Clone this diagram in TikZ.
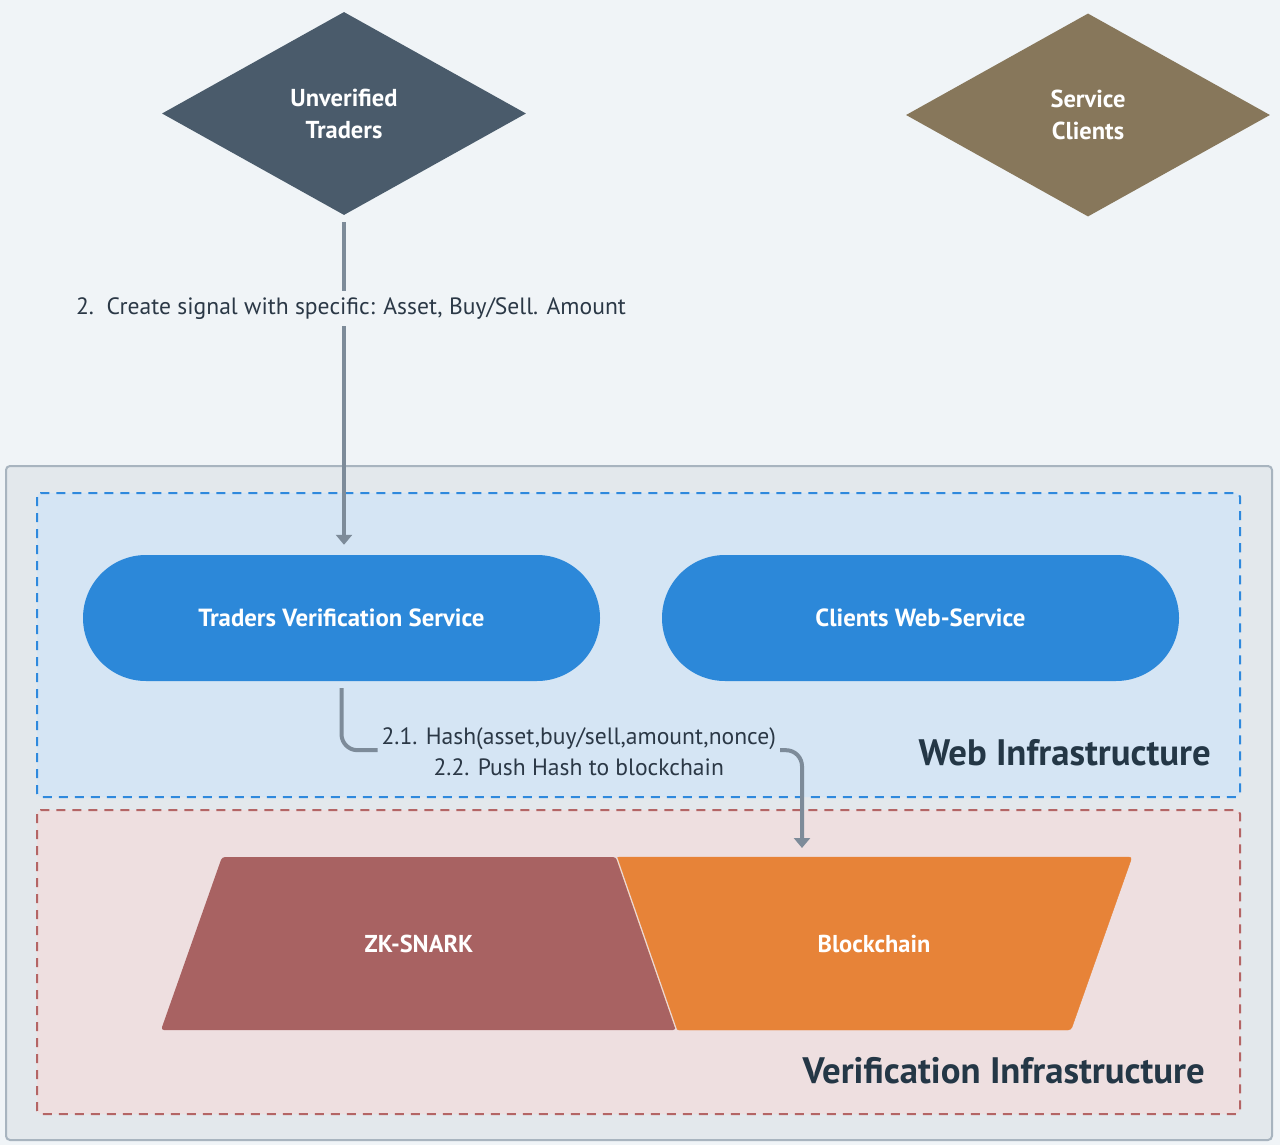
\documentclass[tikz,border=0pt]{standalone}
\usepackage{fontspec}
\setmainfont{PT Sans}
\usetikzlibrary{arrows.meta,shapes.geometric}
\definecolor{bgc}{HTML}{F0F4F7}
\definecolor{outerfill}{HTML}{E3E8EC}
\definecolor{outerline}{HTML}{A8B4BF}
\definecolor{webfill}{HTML}{D5E5F4}
\definecolor{webdash}{HTML}{2F89DD}
\definecolor{verfill}{HTML}{EEDFE0}
\definecolor{verdash}{HTML}{B46565}
\definecolor{utc}{HTML}{4A5B6B}
\definecolor{scc}{HTML}{87775B}
\definecolor{pillc}{HTML}{2C88D9}
\definecolor{zkc}{HTML}{A86262}
\definecolor{bcc}{HTML}{E78338}
\definecolor{connc}{HTML}{7D8B99}
\definecolor{txtc}{HTML}{2B3846}
\definecolor{titc}{HTML}{243746}
\tikzset{
  actor/.style={diamond, minimum width=364, minimum height=203, inner sep=0, text=white, align=center, font=\bfseries\fontsize{24.5}{32}\selectfont},
  pill/.style={rectangle, rounded corners=63, fill=pillc, minimum width=517, minimum height=126, text=white, font=\bfseries\fontsize{24.8}{28}\selectfont},
  shapelabel/.style={text=white, font=\bfseries\fontsize{24.4}{28}\selectfont, minimum height=173, inner sep=0},
  conn/.style={draw=connc, line width=4, -{Triangle[length=10,width=16]}},
  lbl/.style={text=txtc, font=\fontsize{23.6}{31}\selectfont},
  zone/.style={line width=2, dash pattern=on 9 off 7},
  title/.style={anchor=east, inner sep=0, text=titc, font=\bfseries\fontsize{36.8}{40}\selectfont},
}
\begin{document}
\begin{tikzpicture}[x=1pt,y=-1pt]
\fill[bgc] (0,0) rectangle (1280,1145);
\useasboundingbox (0,0) rectangle (1280,1145);
% containers
\draw[draw=outerline, fill=outerfill, line width=2, rounded corners=4] (6,466) rectangle (1272,1140);
\draw[zone, draw=webdash, fill=webfill, rounded corners=4] (37,493) rectangle (1240,797);
\draw[zone, draw=verdash, fill=verfill, rounded corners=4] (37,810) rectangle (1240,1114);
% actors
\node[actor, fill=utc] (ut) at (344,113.5) {Unverified\\Traders};
\node[actor, fill=scc] (sc) at (1088,115) {Service\\Clients};
% services
\node[pill] (tvs) at (341.5,618) {Traders Verification Service};
\node[pill] (cws) at (920.5,618) {Clients Web-Service};
% verification shapes
\fill[zkc, rounded corners=3] (222,857) -- (616,857) -- (676,1030) -- (161,1030) -- cycle;
\draw[bcc, fill=bcc, rounded corners=3] (616,857) -- (1132,857) -- (1071,1030) -- (676,1030) -- cycle;
\draw[line width=1.2, draw=white!75!zkc] (616.5,857) -- (676.5,1030);
\node[shapelabel] (zk) at (419,943.5) {ZK-SNARK};
\node[shapelabel] (bc) at (874,943.5) {Blockchain};
\coordinate (bcin) at (802,857);
% titles
\node[title] (webt) at (1211,753) {Web Infrastructure};
\node[title] (vert) at (1205,1071) {Verification Infrastructure};
% connectors
\draw[conn, shorten <=7, shorten >=10] (ut.south) -- node[pos=0.275, lbl, fill=bgc, xshift=7, inner xsep=4, inner ysep=7]{2.\ \ Create signal with specific: Asset, Buy/Sell. Amount} (ut.south |- tvs.north);
\draw[conn, rounded corners=16, shorten <=7, shorten >=9] (tvs.south) -- ++(0,69) -| node[pos=0.25, lbl, fill=webfill, align=center, xshift=7, yshift=-2, inner xsep=4, inner ysep=1]{2.1. Hash(asset,buy/sell,amount,nonce)\\2.2. Push Hash to blockchain} (bcin);
\end{tikzpicture}
\end{document}
